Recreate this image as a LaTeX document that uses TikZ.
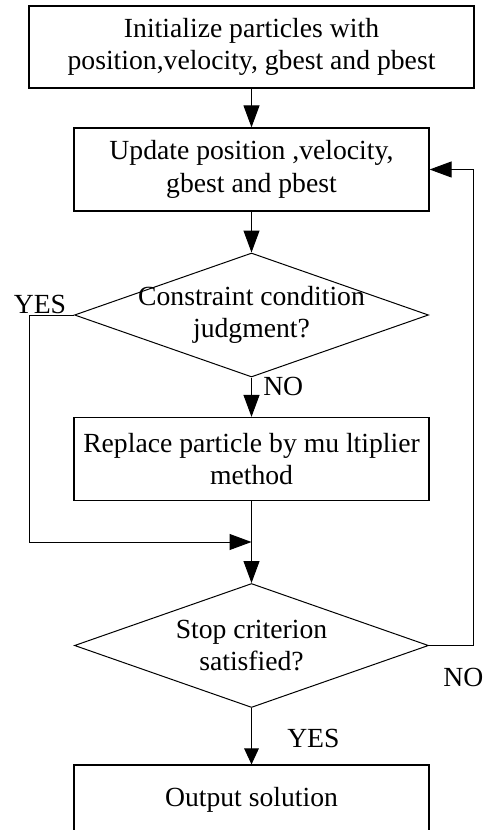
\documentclass[tikz,border=0pt]{standalone}
\usepackage{fontspec}
\setmainfont{Liberation Serif}
\usetikzlibrary{shapes.geometric,arrows.meta}

\begin{document}
\begin{tikzpicture}[x=0.75pt,y=0.75pt,yscale=-1,xscale=1,
  every node/.style={font=\fontsize{20.75}{24.5}\selectfont},
  procbox/.style={draw,line width=0.9pt,align=center,inner sep=0.75pt,minimum width=266.25pt,minimum height=62.25pt},
  testbox/.style={draw,diamond,line width=0.75pt,align=center,inner xsep=-16pt,inner ysep=-8pt,aspect=2.85,minimum width=265.5pt,minimum height=93pt},
  flow/.style={line width=0.75pt,-{Triangle[length=16.5pt,width=12pt]}}]
%set diagram left start at 0, and has height of 830
\useasboundingbox (0,0) rectangle (484,830);

%Shape: Rectangle [id:init]
\node [procbox,minimum width=333.75pt,minimum height=61.5pt] (init) at (251.5,47) {Initialize particles with\\position,velocity, gbest and pbest};
%Shape: Rectangle [id:update]
\node [procbox] (update) at (251.5,169.5) {Update position ,velocity,\\gbest and pbest};
%Shape: Diamond [id:constr]
\node [testbox] (constr) at (251.5,315) {Constraint condition\\judgment?};
%Shape: Rectangle [id:replace]
\node [procbox] (replace) at (251.5,459) {Replace particle by mu ltiplier\\method};
%Shape: Diamond [id:stop]
\node [testbox] (stop) at (251.5,645.5) {Stop criterion\\satisfied?};
%Shape: Rectangle [id:output]
\node [procbox,minimum height=51.75pt] (output) at (251.5,799.5) {Output solution};
\coordinate (merge) at (251.5,542);

%Straight Lines [id:init-update]
\draw [flow] (init) -- (update) ;
%Straight Lines [id:update-constr]
\draw [flow] (update) -- (constr) ;
%Straight Lines [id:constr-replace]
\draw [flow] (constr) -- (replace) ;
%Straight Lines [id:constr-merge]
\draw [flow] (constr.west) -- (29,315) |- (merge) ;
%Straight Lines [id:replace-stop]
\draw [flow] (replace) -- (stop) ;
%Straight Lines [id:stop-update]
\draw [flow] (stop.east) -- (473,645.5) |- (update.east) ;
%Straight Lines [id:stop-output]
\draw [line width=0.75pt,-{Triangle[length=12pt,width=11pt]}] (stop) -- (output) ;

% Text Node
\node (yesA) at (40,304) {YES};
% Text Node
\node [anchor=west,inner sep=0pt] (noA) at (263,386) {NO};
% Text Node
\node [anchor=west,inner sep=0pt] (noB) at (443,677) {NO};
% Text Node
\node [anchor=west,inner sep=0pt] (yesB) at (287,738) {YES};

\end{tikzpicture}
\end{document}
